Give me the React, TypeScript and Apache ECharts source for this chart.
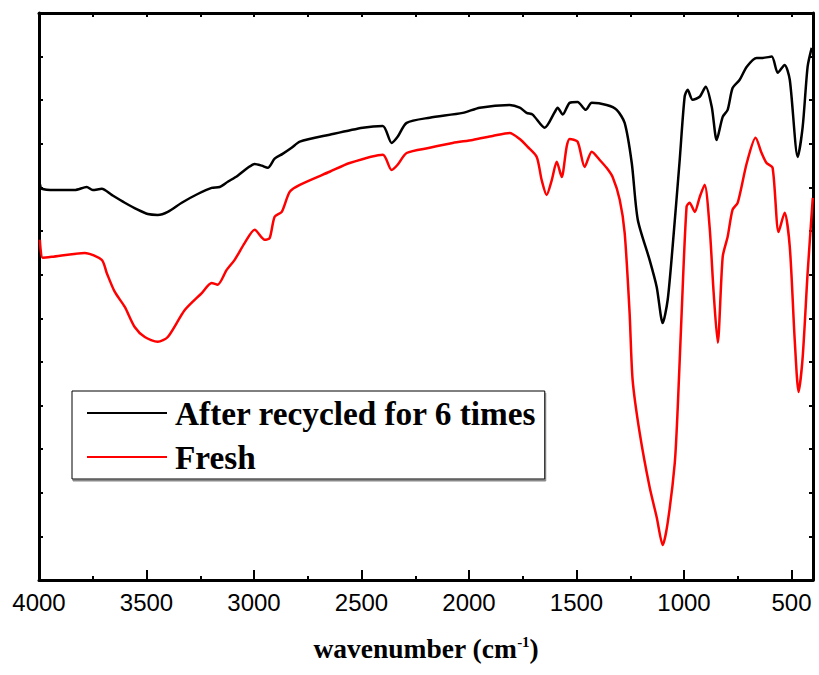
import React, { useEffect, useRef } from "react";
import * as echarts from "echarts";

// X tick labels (wavenumber, cm^-1)
const majorTicks = [500, 1000, 1500, 2000, 2500, 3000, 3500, 4000];
const minorTicks = [750, 1250, 1750, 2250, 2750, 3250, 3750];
const allTicks = [500, 750, 1000, 1250, 1500, 1750, 2000, 2250, 2500, 2750, 3000, 3250, 3500, 3750];

const seriesNames = ["After recycled for 6 times", "Fresh"];

// "After recycled for 6 times" (black)
const recycledWavenumber = [
  3996, 3987, 3927, 3834, 3778, 3750, 3708, 3662, 3601, 3541, 3494, 3448, 3401, 3336, 3262, 3197,
  3160, 3122, 3076, 3029, 2997, 2964, 2936, 2904, 2867, 2825, 2787, 2648, 2494, 2401, 2360, 2332,
  2290, 2183, 2029, 1950, 1811, 1764, 1732, 1704, 1648, 1601, 1588, 1564, 1532, 1495, 1457, 1429,
  1360, 1313, 1276, 1243, 1215, 1160, 1127, 1099, 1076, 1053, 1020, 997, 983, 960, 927, 899, 871,
  848, 820, 797, 774, 741, 708, 662, 634, 592, 564, 532, 508, 471, 448, 425, 406,
];
const recycledValue = [
  90.8, 89.7, 89.4, 89.4, 90.1, 89.4, 89.7, 88.3, 86.5, 84.9, 83.9, 83.7, 84.4, 86.5, 88.5, 89.9,
  90.1, 91.3, 92.7, 94.5, 95.4, 95.0, 94.5, 96.6, 97.7, 99.1, 100.5, 102.1, 103.7, 104.1, 100.2, 101.6,
  104.8, 106.0, 107.1, 108.3, 108.9, 108.3, 107.1, 106.7, 103.7, 107.3, 108.3, 106.7, 109.4, 109.6, 107.8, 109.4,
  108.9, 107.8, 104.8, 95.6, 82.6, 73.4, 67.2, 58.9, 64.2, 76.4, 96.3, 110.8, 112.4, 110.1, 110.8, 113.1, 108.5,
  100.9, 106.2, 107.8, 112.8, 114.7, 117.7, 119.7, 119.7, 120.0, 116.3, 118.1, 114.7, 97.0, 103.9, 117.7, 122.0,
];

// "Fresh" (red)
const freshWavenumber = [
  3996, 3983, 3941, 3787, 3708, 3685, 3648, 3601, 3555, 3508, 3448, 3401, 3322, 3243, 3197, 3169,
  3127, 3090, 3043, 2997, 2950, 2927, 2904, 2871, 2834, 2787, 2648, 2555, 2401, 2360, 2332, 2290,
  2183, 2076, 1983, 1890, 1811, 1764, 1727, 1685, 1662, 1639, 1615, 1592, 1569, 1546, 1532, 1495,
  1462, 1429, 1392, 1360, 1332, 1299, 1276, 1253, 1239, 1206, 1160, 1127, 1099, 1076, 1043, 1029,
  1011, 988, 974, 950, 927, 904, 881, 862, 843, 820, 797, 774, 750, 708, 667, 639, 616, 588, 560,
  532, 508, 485, 467, 448, 425, 401,
];
const freshValue = [
  78.0, 73.9, 74.1, 75.0, 73.4, 70.4, 66.1, 62.6, 58.0, 55.7, 54.6, 55.7, 61.9, 65.8, 68.1, 67.7,
  71.1, 73.4, 77.3, 80.3, 78.0, 78.4, 83.3, 84.4, 89.0, 90.6, 93.6, 95.6, 97.5, 94.0, 95.2, 97.9,
  99.1, 100.2, 100.9, 101.8, 102.5, 101.1, 99.3, 97.0, 91.7, 88.3, 91.7, 95.9, 92.4, 99.3, 101.1, 100.5,
  94.7, 98.2, 96.3, 94.5, 92.4, 87.2, 79.6, 61.2, 45.9, 33.7, 21.3, 14.4, 8.0, 13.1, 26.8, 39.7,
  61.2, 85.6, 86.5, 84.4, 87.8, 90.6, 81.0, 65.8, 54.4, 74.1, 78.7, 84.9, 86.5, 95.6, 101.4, 97.9, 95.6, 94.5, 79.8,
  84.2, 76.4, 55.0, 43.1, 51.1, 70.4, 87.6,
];

const zip = (xs: number[], ys: number[]) => xs.map((x, i) => [x, ys[i]]);

export default function App() {
  const ref = useRef<HTMLDivElement>(null);
  useEffect(() => {
    if (!ref.current) return;
    const chart = echarts.init(ref.current, null, { renderer: "svg" });
    const serif = "'Liberation Serif', 'Times New Roman', serif";
    const sans = "'Liberation Sans', Arial, sans-serif";
    const frameLine = { show: true, onZero: false, lineStyle: { color: "#000", width: 3 } };
    const baseX = {
      type: "value",
      min: 400,
      max: 4000,
      inverse: true,
      splitLine: { show: false },
    };
    const baseY = {
      type: "value",
      min: 0,
      max: 130,
      interval: 10,
      splitLine: { show: false },
      axisLabel: { show: false },
    };
    chart.setOption({
      animation: false,
      backgroundColor: "#fff",
      grid: { left: 39, right: 6, top: 13, bottom: 95, containLabel: false },
      legend: {
        orient: "vertical",
        left: 72,
        top: 391,
        padding: [5, 8, 5, 15],
        itemGap: 10,
        itemWidth: 80,
        itemHeight: 2,
        icon: "rect",
        backgroundColor: "#fff",
        borderColor: "#000",
        borderWidth: 1,
        borderRadius: 0,
        shadowColor: "#888",
        shadowOffsetX: 1,
        shadowOffsetY: 2,
        shadowBlur: 0,
        data: seriesNames,
        textStyle: {
          fontFamily: serif,
          fontWeight: "bold",
          fontSize: 33.3,
          color: "#000",
          lineHeight: 34,
          padding: [0, 0, 0, 3],
        },
      },
      xAxis: [
        {
          ...baseX,
          position: "bottom",
          axisLine: frameLine,
          axisTick: { show: true, inside: true, length: 10, lineStyle: { width: 2, color: "#000" }, customValues: majorTicks },
          axisLabel: {
            show: true,
            customValues: majorTicks,
            formatter: (v: number) => String(v),
            fontFamily: sans,
            fontSize: 24,
            color: "#000",
            margin: 10,
          },
          name: "wavenumber (cm{sup|-1})",
          nameLocation: "middle",
          nameGap: 54,
          nameTextStyle: {
            fontFamily: serif,
            fontWeight: "bold",
            fontSize: 27.5,
            color: "#000",
            rich: {
              sup: {
                fontFamily: serif,
                fontWeight: "bold",
                fontSize: 15,
                verticalAlign: "top",
                padding: [0, 0, 12, 0],
                color: "#000",
              },
            },
          },
        },
        {
          ...baseX,
          position: "bottom",
          axisLine: { show: false },
          axisTick: { show: true, inside: true, length: 4, lineStyle: { width: 2, color: "#000" }, customValues: minorTicks },
          axisLabel: { show: false },
        },
        {
          ...baseX,
          position: "top",
          axisLine: frameLine,
          axisTick: { show: true, inside: true, length: 4, lineStyle: { width: 2, color: "#000" }, customValues: allTicks },
          axisLabel: { show: false },
        },
      ],
      yAxis: [
        {
          ...baseY,
          position: "left",
          axisLine: frameLine,
          axisTick: { show: true, inside: true, length: 4, lineStyle: { width: 2, color: "#000" } },
        },
        {
          ...baseY,
          position: "right",
          axisLine: frameLine,
          axisTick: { show: true, inside: true, length: 4, lineStyle: { width: 2, color: "#000" } },
        },
      ],
      series: [
        {
          name: seriesNames[0],
          type: "line",
          xAxisIndex: 0,
          yAxisIndex: 0,
          data: zip(recycledWavenumber, recycledValue),
          symbol: "none",
          smooth: 0.25,
          lineStyle: { color: "#000", width: 2.5 },
          itemStyle: { color: "#000" },
        },
        {
          name: seriesNames[1],
          type: "line",
          xAxisIndex: 0,
          yAxisIndex: 0,
          data: zip(freshWavenumber, freshValue),
          symbol: "none",
          smooth: 0.25,
          lineStyle: { color: "#ff0000", width: 2.5 },
          itemStyle: { color: "#ff0000" },
        },
      ],
    });
    return () => chart.dispose();
  }, []);
  return <div ref={ref} style={{ width: 819, height: 675, position: "absolute", left: 0, top: 0 }} />;
}
